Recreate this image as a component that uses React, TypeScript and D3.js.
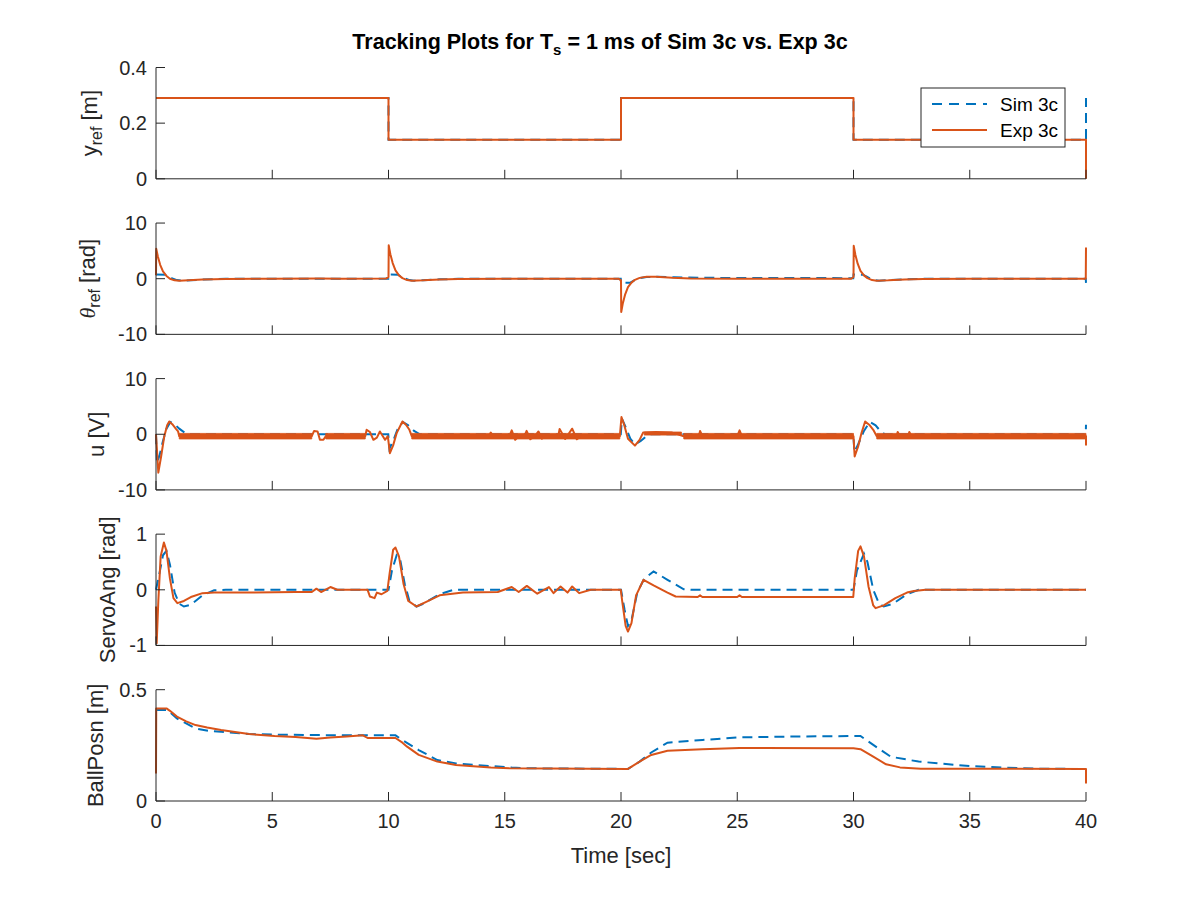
import { useEffect } from 'react'
import * as d3 from 'd3'

// time axis
const timeTicks = [0, 5, 10, 15, 20, 25, 30, 35, 40]

// y_ref [m]
const yrefTicks = [0, 0.2, 0.4]
const yrefSim: [number, number][] = [
  [0, 0.29], [10, 0.29], [10, 0.14], [20, 0.14], [20, 0.29], [30, 0.29], [30, 0.14], [40, 0.14], [40, 0.29],
]
const yrefExp: [number, number][] = [
  [0, 0.29], [10, 0.29], [10, 0.14], [20, 0.14], [20, 0.29], [30, 0.29], [30, 0.14], [40, 0.14], [40, 0],
]

// theta_ref [rad]
const thetaTicks = [-10, 0, 10]
const thetaSim: [number, number][] = [
  [0, 0.75], [0.4, 0.72], [0.55, 0.4], [0.7, 0.05], [0.9, -0.25], [1.1, -0.35], [1.5, -0.28], [2, -0.15], [3, -0.03], [5, 0],
  [9.99, 0], [10, 0.75], [10.4, 0.72], [10.55, 0.4], [10.7, 0.05], [10.9, -0.25], [11.1, -0.35], [11.5, -0.28], [12.2, -0.12], [13, -0.02], [15, 0],
  [19.99, 0], [20, -0.75], [20.4, -0.72], [20.55, -0.35], [20.8, 0.1], [21.1, 0.3], [21.5, 0.35], [22.3, 0.25], [24, 0.15], [27, 0.12],
  [29.99, 0.1], [30, 0.75], [30.4, 0.72], [30.55, 0.4], [30.7, 0.05], [30.9, -0.25], [31.1, -0.35], [31.5, -0.28], [32.2, -0.12], [33, -0.02], [35, 0],
  [39.99, 0], [40, -0.75],
]
const thetaExp: [number, number][] = [
  [0, 0.6], [0.01, 5.4], [0.08, 4.0], [0.18, 2.5], [0.3, 1.3], [0.45, 0.5], [0.6, 0.0], [0.8, -0.3], [1.0, -0.38], [1.4, -0.3], [2.0, -0.15], [3.0, -0.05], [5, 0], [7, 0.05], [8, 0],
  [9.9, 0.05], [10, 0.3], [10.01, 6.0], [10.08, 4.4], [10.18, 2.8], [10.3, 1.5], [10.45, 0.6], [10.6, 0.1], [10.8, -0.25], [11.0, -0.35], [11.5, -0.3], [12.2, -0.15], [13, -0.05], [15, 0],
  [19.9, 0], [20, -0.3], [20.01, -6.0], [20.08, -4.4], [20.18, -2.8], [20.3, -1.5], [20.45, -0.7], [20.6, -0.2], [20.8, 0.15], [21.1, 0.35], [21.5, 0.35], [22.2, 0.15], [23, 0.05], [25, 0],
  [29.9, 0], [30, 0.3], [30.01, 5.9], [30.08, 4.3], [30.18, 2.7], [30.3, 1.4], [30.45, 0.6], [30.6, 0.1], [30.8, -0.25], [31.0, -0.35], [31.5, -0.3], [32.2, -0.15], [33, -0.05], [35, 0],
  [39.99, 0], [40, 5.6],
]

// u [V]
const uTicks = [-10, 0, 10]
const uSim: [number, number][] = [
  [0, 0], [0.04, -5.2], [0.15, -3.8], [0.3, -1.2], [0.45, 1.0], [0.62, 2.2], [0.8, 1.8], [1.0, 1.0], [1.2, 0.4], [1.4, 0],
  [9.99, 0], [10.04, -2.6], [10.2, -1.2], [10.4, 1.0], [10.62, 2.2], [10.85, 1.6], [11.1, 0.6], [11.35, 0],
  [19.99, 0], [20.04, 2.8], [20.2, 1.3], [20.4, -0.8], [20.6, -1.8], [20.85, -1.2], [21.1, -0.3], [21.3, 0],
  [29.99, 0], [30.04, -3.2], [30.2, -1.8], [30.45, 0.6], [30.7, 2.2], [30.95, 1.6], [31.15, 0.6], [31.35, 0],
  [39.99, 0], [40, 1.7],
]
const uExp: [number, number][] = [
  [0, 0], [0.1, -6.9], [0.22, -4.0], [0.35, -0.5], [0.48, 1.6], [0.57, 2.3], [0.7, 1.8], [0.85, 1.0], [0.95, 0.5], [1.0, -0.35],
  [6.7, -0.35], [6.8, 0.6], [6.95, 0.5], [7.05, -1.0], [7.2, -1.0], [7.3, -0.35],
  [9.0, -0.35], [9.06, 0.8], [9.2, 0.4], [9.35, -1.0], [9.5, -0.6], [9.63, 0.5], [9.75, -0.3], [9.85, -1.0], [9.97, -0.35],
  [10.06, -3.4], [10.2, -2.0], [10.35, 0.2], [10.6, 2.3], [10.75, 1.7], [10.9, 0.8], [11.0, -0.35],
  [14.3, -0.35], [14.4, 0.3], [14.5, -0.35], [15.2, -0.35], [15.3, 0.7], [15.45, -1.0], [15.6, -0.35], [15.85, -0.3], [15.94, 0.6], [16.1, -0.9], [16.3, -0.35],
  [16.45, 0.5], [16.6, -0.8], [16.75, -0.35], [17.3, -0.35], [17.36, 0.95], [17.6, -0.85], [17.9, 1.0], [18.1, -0.9], [18.3, -0.35],
  [19.95, -0.35], [20.02, 3.1], [20.15, 1.5], [20.3, -0.8], [20.6, -2.05], [20.8, -1.0], [20.95, 0.3], [21.5, 0.4], [22.2, 0.3], [22.7, -0.35],
  [23.35, -0.35], [23.4, 0.6], [23.5, -0.35], [25.0, -0.35], [25.1, 0.7], [25.2, -0.35],
  [30.0, -0.35], [30.05, -4.0], [30.2, -2.2], [30.35, 0.3], [30.5, 2.3], [30.7, 1.6], [30.85, 0.8], [31.0, -0.35],
  [31.85, -0.35], [31.9, 0.4], [32.0, -0.35], [32.35, -0.35], [32.4, 0.4], [32.5, -0.35], [40, -0.35], [40, -2.0],
]
// chatter envelope of the measured voltage: [tStart, tEnd, low, high]
const uExpBand: [number, number, number, number][] = [
  [1.0, 6.7, -0.85, 0.15],
  [7.3, 9.0, -0.85, 0.15],
  [11.0, 19.95, -0.85, 0.15],
  [21.0, 22.6, -0.15, 0.4],
  [22.7, 30.0, -0.85, 0.15],
  [31.0, 40, -0.85, 0.15],
]

// ServoAng [rad]
const servoTicks = [-1, 0, 1]
const servoSim: [number, number][] = [
  [0, 0], [0.15, 0.3], [0.3, 0.62], [0.45, 0.7], [0.6, 0.45], [0.8, -0.05], [1.0, -0.25], [1.2, -0.3], [1.5, -0.27], [2.0, -0.1], [2.5, -0.01], [3, 0],
  [10.0, 0], [10.15, 0.35], [10.35, 0.62], [10.5, 0.55], [10.7, 0.1], [10.9, -0.2], [11.2, -0.3], [11.5, -0.25], [12.2, -0.08], [12.8, 0],
  [20.0, 0], [20.15, -0.35], [20.3, -0.65], [20.45, -0.55], [20.7, -0.05], [21.0, 0.2], [21.4, 0.33], [22.0, 0.18], [22.7, 0.01], [23, 0],
  [30, 0], [30.15, 0.35], [30.45, 0.65], [30.6, 0.5], [30.85, 0.0], [31.1, -0.25], [31.3, -0.3], [31.7, -0.25], [32.3, -0.08], [32.8, 0], [40, 0],
]
const servoExp: [number, number][] = [
  [0, -0.3], [0.03, -0.96], [0.1, -0.2], [0.2, 0.6], [0.34, 0.85], [0.45, 0.7], [0.6, 0.2], [0.75, -0.15], [0.92, -0.24], [1.2, -0.2], [1.5, -0.13],
  [2.0, -0.06], [2.5, -0.05], [4, -0.05], [6, -0.04], [6.7, -0.04], [6.9, 0.02], [7.1, -0.04], [7.5, 0.05], [7.8, 0.0],
  [9.1, 0.0], [9.2, -0.12], [9.4, -0.15], [9.5, -0.05], [9.7, -0.08], [9.95, -0.02],
  [10.05, 0.3], [10.2, 0.72], [10.3, 0.76], [10.45, 0.6], [10.65, 0.1], [10.85, -0.2], [11.2, -0.3], [11.6, -0.22], [12.2, -0.1], [13.2, -0.05], [14.7, -0.04],
  [15.3, 0.05], [15.6, -0.04], [15.95, 0.07], [16.4, -0.07], [16.9, 0.05], [17.1, -0.06], [17.4, 0.06], [17.7, -0.05], [17.9, 0.06], [18.2, -0.06], [18.7, 0.0],
  [19.99, 0], [20.05, -0.2], [20.2, -0.65], [20.3, -0.75], [20.45, -0.6], [20.65, -0.1], [20.97, 0.18], [21.4, 0.08], [22.0, -0.05], [22.35, -0.12],
  [23.3, -0.13], [23.4, -0.1], [23.5, -0.13], [25, -0.13], [25.1, -0.1], [25.2, -0.13], [29.99, -0.13],
  [30.05, 0.2], [30.2, 0.7], [30.3, 0.78], [30.45, 0.6], [30.65, 0.05], [30.85, -0.28], [30.95, -0.33], [31.3, -0.28], [31.8, -0.15], [32.3, -0.05], [32.6, -0.02], [33.1, 0], [40, 0],
]

// BallPosn [m]
const ballTicks = [0, 0.5]
const ballSim: [number, number][] = [
  [0, 0.409], [0.5, 0.409], [0.9, 0.371], [1.7, 0.326], [2.3, 0.314], [2.8, 0.311], [4.0, 0.301], [5.1, 0.298], [7, 0.296], [10.3, 0.295],
  [10.6, 0.274], [11.3, 0.229], [12.1, 0.184], [12.9, 0.169], [14.4, 0.157], [15.3, 0.15], [16, 0.147], [20.3, 0.144],
  [20.8, 0.177], [21.3, 0.218], [22.0, 0.262], [23.5, 0.274], [25.1, 0.286], [27.8, 0.29], [30.3, 0.292],
  [30.85, 0.252], [31.6, 0.199], [32.8, 0.177], [35, 0.157], [36.5, 0.15], [38, 0.145], [40, 0.144],
]
const ballExp: [number, number][] = [
  [0, 0.124], [0.01, 0.416], [0.45, 0.416], [0.6, 0.405], [0.9, 0.379], [1.3, 0.358], [1.7, 0.341], [2.2, 0.33], [2.8, 0.319], [4.0, 0.301],
  [5.1, 0.292], [6.0, 0.288], [6.9, 0.28], [7.5, 0.285], [8.2, 0.29], [8.9, 0.295], [9.1, 0.283], [10.3, 0.283],
  [10.6, 0.262], [10.8, 0.244], [11.3, 0.207], [12.1, 0.177], [12.9, 0.162], [14.4, 0.15], [15.2, 0.147], [20.3, 0.144],
  [20.8, 0.177], [21.3, 0.207], [22.0, 0.226], [23.5, 0.232], [25.1, 0.238], [30.0, 0.237], [30.3, 0.233],
  [30.85, 0.199], [31.4, 0.165], [32.0, 0.151], [32.9, 0.145], [40, 0.144], [40, 0.079],
]

const seriesNames = ['Sim 3c', 'Exp 3c']

const SIM = '#0072BD'
const EXP = '#D95319'
const AX = '#262626'
const FONT = '"Liberation Sans", Arial, Helvetica, sans-serif'

const W = 1200
const H = 900
const LEFT = 156
const RIGHT = 1086
const TOP0 = 67.5
const STEP = 155.55
const PH = 111.3
const TICK = 9

type Panel = {
  domain: [number, number]
  ticks: number[]
  sim: [number, number][]
  exp: [number, number][]
  label: 'yref' | 'theta' | 'u' | 'servo' | 'ball'
  labelX: number
}

const panels: Panel[] = [
  { domain: [0, 0.4], ticks: yrefTicks, sim: yrefSim, exp: yrefExp, label: 'yref', labelX: 97 },
  { domain: [-10, 10], ticks: thetaTicks, sim: thetaSim, exp: thetaExp, label: 'theta', labelX: 95 },
  { domain: [-10, 10], ticks: uTicks, sim: uSim, exp: uExp, label: 'u', labelX: 103.5 },
  { domain: [-1, 1], ticks: servoTicks, sim: servoSim, exp: servoExp, label: 'servo', labelX: 115 },
  { domain: [0, 0.5], ticks: ballTicks, sim: ballSim, exp: ballExp, label: 'ball', labelX: 102.5 },
]

function YLabel({ kind }: { kind: Panel['label'] }) {
  const sub = { fontSize: 16 }
  if (kind === 'yref')
    return (
      <>
        y<tspan dy={5} {...sub}>ref</tspan>
        <tspan dy={-5}> [m]</tspan>
      </>
    )
  if (kind === 'theta')
    return (
      <>
        <tspan fontFamily='"Liberation Serif", "DejaVu Serif", serif' fontStyle="italic">θ</tspan>
        <tspan dy={5} {...sub}>ref</tspan>
        <tspan dy={-5}> [rad]</tspan>
      </>
    )
  if (kind === 'u') return <>u [V]</>
  if (kind === 'servo') return <>ServoAng [rad]</>
  return <>BallPosn [m]</>
}

export default function App() {
  useEffect(() => {
    document.body.style.margin = '0'
    document.body.style.background = '#ffffff'
  }, [])

  const x = d3.scaleLinear().domain([0, 40]).range([LEFT, RIGHT])

  return (
    <svg width={W} height={H} style={{ display: 'block', background: '#ffffff' }} fontFamily={FONT}>
      <rect width={W} height={H} fill="#ffffff" />
      <text x={600} y={49} textAnchor="middle" fontSize={21.5} fontWeight="bold" fill="#000">
        Tracking Plots for T<tspan dy={6} fontSize={15}>s</tspan>
        <tspan dy={-6}> = 1 ms of Sim 3c vs. Exp 3c</tspan>
      </text>

      {panels.map((p, i) => {
        const top = TOP0 + i * STEP
        const bottom = top + PH
        const y = d3.scaleLinear().domain(p.domain).range([bottom, top])
        const line = d3
          .line<[number, number]>()
          .x((d) => x(d[0]))
          .y((d) => y(d[1]))
        const area = d3
          .area<[number, number, number]>()
          .x((d) => x(d[0]))
          .y0((d) => y(d[1]))
          .y1((d) => y(d[2]))
        const isLast = i === panels.length - 1
        return (
          <g key={i}>
            {/* series */}
            <path d={line(p.sim) ?? ''} fill="none" stroke={SIM} strokeWidth={2} strokeDasharray="10,6" />
            {p.label === 'u' &&
              uExpBand.map((b, k) => (
                <path
                  key={k}
                  d={area([[b[0], b[2], b[3]], [b[1], b[2], b[3]]]) ?? ''}
                  fill={EXP}
                  stroke={EXP}
                  strokeWidth={0.8}
                />
              ))}
            <path d={line(p.exp) ?? ''} fill="none" stroke={EXP} strokeWidth={2} strokeLinejoin="round" />

            {/* axes */}
            <line x1={LEFT} x2={RIGHT} y1={bottom} y2={bottom} stroke={AX} strokeWidth={1} />
            <line x1={LEFT} x2={LEFT} y1={top} y2={bottom} stroke={AX} strokeWidth={1} />
            {timeTicks.map((t) => (
              <line key={t} x1={x(t)} x2={x(t)} y1={bottom} y2={bottom - TICK} stroke={AX} strokeWidth={1} />
            ))}
            {p.ticks.map((v) => (
              <g key={v}>
                <line x1={LEFT} x2={LEFT + TICK} y1={y(v)} y2={y(v)} stroke={AX} strokeWidth={1} />
                <text x={147} y={y(v) + 7} textAnchor="end" fontSize={20} fill={AX}>
                  {String(v)}
                </text>
              </g>
            ))}
            {isLast &&
              timeTicks.map((t) => (
                <text key={t} x={x(t)} y={828} textAnchor="middle" fontSize={20} fill={AX}>
                  {String(t)}
                </text>
              ))}
            <text
              transform={`translate(${p.labelX},${(top + bottom) / 2}) rotate(-90)`}
              textAnchor="middle"
              fontSize={22}
              fill={AX}
            >
              <YLabel kind={p.label} />
            </text>
          </g>
        )
      })}

      <text x={621} y={863} textAnchor="middle" fontSize={22} fill={AX}>
        Time [sec]
      </text>

      {/* legend */}
      <g>
        <rect x={921} y={88} width={144} height={59} fill="#ffffff" stroke={AX} strokeWidth={1} />
        {seriesNames.map((name, k) => {
          const ly = 104 + k * 26
          return (
            <g key={name}>
              <line
                x1={932}
                x2={987}
                y1={ly}
                y2={ly}
                stroke={k === 0 ? SIM : EXP}
                strokeWidth={2}
                strokeDasharray={k === 0 ? '10,7' : undefined}
              />
              <text x={1000} y={ly + 7} fontSize={19} fill="#000">
                {name}
              </text>
            </g>
          )
        })}
      </g>
    </svg>
  )
}
